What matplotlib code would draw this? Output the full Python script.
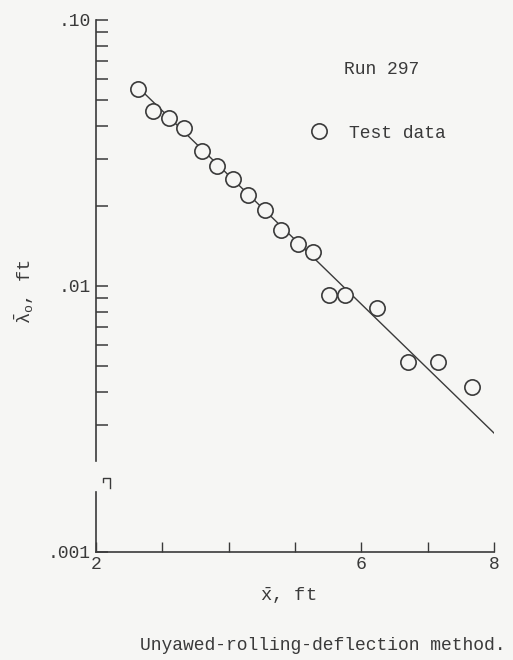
import matplotlib
matplotlib.use('Agg')
import matplotlib.pyplot as plt
from matplotlib.ticker import FixedLocator, FixedFormatter, NullFormatter

plt.rcParams['font.family'] = ['Liberation Mono', 'DejaVu Sans Mono']
plt.rcParams['mathtext.fontset'] = 'custom'
plt.rcParams['mathtext.rm'] = 'Liberation Mono'
plt.rcParams['mathtext.it'] = 'Liberation Mono'

# test data, run 297
x_data = [2.63, 2.86, 3.10, 3.33, 3.60, 3.83, 4.07, 4.29, 4.55, 4.79,
          5.05, 5.27, 5.51, 5.76, 6.24, 6.71, 7.16, 7.67]
lam_data = [0.0551, 0.0455, 0.0428, 0.0393, 0.0322, 0.0283, 0.0253, 0.0220,
            0.0193, 0.0162, 0.0144, 0.0134, 0.00925, 0.00925, 0.00827,
            0.00518, 0.00518, 0.00417]

# faired line
fit_x = [2.63, 8.0]
fit_y = [0.056, 0.0028]

x_ticks = [2, 3, 4, 5, 6, 7, 8]
x_ticklabels = ['2', '', '', '', '6', '', '8']
y_major = [0.001, 0.01, 0.1]
y_major_labels = ['.001', '.01', '.10']
y_minor = [0.003, 0.004, 0.005, 0.006, 0.007, 0.008, 0.009,
           0.02, 0.03, 0.04, 0.05, 0.06, 0.07, 0.08, 0.09]

ink = '#3a3a3a'
paper = '#f6f6f4'

fig = plt.figure(figsize=(5.13, 6.60), dpi=100, facecolor=paper)
ax = fig.add_axes([96/513, 1-552/660, 398/513, 532/660])
ax.set_facecolor(paper)

ax.plot(fit_x, fit_y, color=ink, lw=1.0, zorder=2)
ax.plot(x_data, lam_data, 'o', ms=11, mfc=paper, mec=ink, mew=1.2,
        zorder=3, label='Test data')

ax.set_yscale('log')
ax.set_xlim(2, 8)
ax.set_ylim(0.001, 0.1)

ax.xaxis.set_major_locator(FixedLocator(x_ticks))
ax.xaxis.set_major_formatter(FixedFormatter(x_ticklabels))
ax.yaxis.set_major_locator(FixedLocator(y_major))
ax.yaxis.set_major_formatter(FixedFormatter(y_major_labels))
ax.yaxis.set_minor_locator(FixedLocator(y_minor))
ax.yaxis.set_minor_formatter(NullFormatter())

ax.tick_params(axis='y', which='both', direction='in', length=8.5, width=1.1,
               color=ink, labelcolor=ink, labelsize=13, pad=4)
ax.tick_params(axis='x', which='both', direction='in', length=7, width=1.0,
               color=ink, labelcolor=ink, labelsize=13, pad=3)

for s in ['top', 'right']:
    ax.spines[s].set_visible(False)
for s in ['left', 'bottom']:
    ax.spines[s].set_color(ink)
    ax.spines[s].set_linewidth(1.2)

# broken y axis
ax.spines['left'].set_bounds(0.0022, 0.1)
ax.plot([0, 0], [0.001, 0.00168], color=ink, lw=1.2,
        transform=ax.get_yaxis_transform(), clip_on=False)
bx = [(103-96)/398, (103-96)/398, (110-96)/398, (110-96)/398]
by = [(552-482)/532, (552-478)/532, (552-478)/532, (552-488)/532]
ax.plot(bx, by, color=ink, lw=1.0, transform=ax.transAxes, clip_on=False)

ax.set_ylabel(r'$\bar{\lambda}_{\mathrm{o}}$, ft', fontsize=13.5, color=ink,
              va='center')
ax.yaxis.set_label_coords(-(96-24)/398, (552-292)/532)
ax.set_xlabel(r'$\bar{\mathrm{x}}$, ft', fontsize=13.5, color=ink, va='center')
ax.xaxis.set_label_coords((288-96)/398, (552-596)/532)

fig.text(382/513, 1-70/660, 'Run 297', fontsize=13, color=ink,
         ha='center', va='center')
ax.legend(loc='center left', bbox_to_anchor=(298/513, 1-133/660),
          bbox_transform=fig.transFigure, frameon=False, fontsize=13,
          handlelength=1.3, handletextpad=1.0, borderpad=0,
          labelcolor=ink)

fig.text(323/513, 1-645/660, 'Unyawed-rolling-deflection method.',
         fontsize=13, color=ink, ha='center', va='center')

fig.savefig('out.png', dpi=100, facecolor=paper)
